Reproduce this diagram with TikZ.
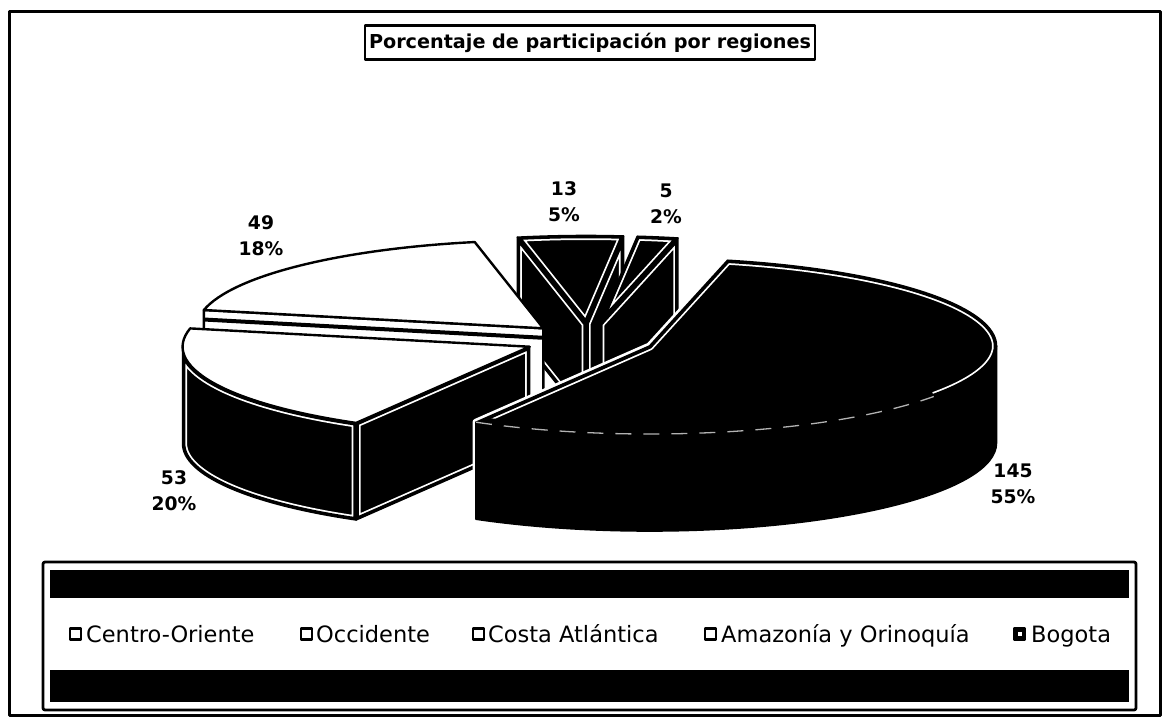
\documentclass[tikz,border=0pt]{standalone}
\usepackage{fontspec}
\setmainfont{DejaVu Sans}
\usetikzlibrary{calc}
\newcommand\darkpath[1]{%
  \begin{scope}
    \clip #1;
    \fill[black] #1;
    \draw[white, line width=9pt] #1;
    \draw[black, line width=5.5pt] #1;
  \end{scope}
  \draw[black, line width=1.6pt] #1;
}
\begin{document}
\begin{tikzpicture}[x=1pt,y=1pt, line join=round,
  er/.style={x radius=347pt, y radius=88pt},
  lbl/.style={font=\fontsize{18.7}{26}\selectfont\bfseries, align=center, inner sep=0pt},
  legtext/.style={font=\fontsize{22.5}{27}\selectfont, anchor=base west, inner sep=0pt},
  legbox/.style={draw=black, line width=2.6pt, fill=white, minimum width=11pt, minimum height=11pt, inner sep=0pt},
  whitetop/.style={fill=white, draw=black, line width=2.4pt},
]
\useasboundingbox (0,0) rectangle (1169,-721);
\fill[white] (0,0) rectangle (1169,-721);
\draw[line width=3pt] (9.5,-11.5) rectangle (1160,-715);

% title
\node[draw, line width=2.8pt, inner xsep=4pt, minimum height=34pt,
      font=\fontsize{19.2}{23}\selectfont\bfseries] (title) at (590,-42.5)
      {Porcentaje de participación por regiones};

% ---------- slice centres ----------
\coordinate (K0) at (586,-323.5);     % Costa Atlantica
\coordinate (A0) at (599.8,-323.75);  % Amazonia
\coordinate (O0) at (543.3,-328.3);   % Occidente
\coordinate (C0) at (529.6,-346.7);   % Centro-Oriente
\coordinate (B0) at (649.5,-346);     % Bogota

\coordinate (K1) at ($(K0)+(83.8:347pt and 88pt)$);
\coordinate (K2) at ($(K0)+(101.4:347pt and 88pt)$);
\coordinate (A1) at ($(A0)+(77:347pt and 88pt)$);
\coordinate (O1) at ($(O0)+(101.4:347pt and 88pt)$);
\coordinate (O2) at ($(O0)+(168:347pt and 88pt)$);
\coordinate (C1) at ($(C0)+(168:347pt and 88pt)$);
\coordinate (C2) at ($(C0)+(240:347pt and 88pt)$);
\coordinate (C3) at ($(C0)+(180:347pt and 88pt)$);
\coordinate (B1) at ($(B0)+(77:347pt and 88pt)$);
\coordinate (B2) at ($(B0)+(-120:347pt and 88pt)$);
\coordinate (B3) at ($(B0)+(0:347pt and 88pt)$);

% ---------- Costa Atlantica ----------
\darkpath{(K0) -- (K1) -- ++(0,-97) -- ($(K0)+(0,-97)$) -- cycle}
\darkpath{(K0) -- (K2) -- ++(0,-97) -- ($(K0)+(0,-97)$) -- cycle}
\darkpath{(K0) -- (K1) arc[start angle=83.8, end angle=101.4, er] -- cycle}

% ---------- Amazonia ----------
\darkpath{(A0) -- (A1) -- ++(0,-97) -- ($(A0)+(0,-97)$) -- cycle}
\darkpath{(A0) -- (A1) arc[start angle=77, end angle=83.8, er] -- cycle}

% ---------- Occidente ----------
\draw[fill=white, draw=black, line width=2.4pt] (O0) -- (O2) -- ++(0,-97) -- ($(O0)+(0,-97)$) -- cycle;
\draw[black, line width=4pt] ($(O2)+(0,-9.5)$) -- ($(O0)+(0,-9.5)$);
\draw[whitetop] (O0) -- (O1) arc[start angle=101.4, end angle=168, er] -- cycle;

% ---------- Centro-Oriente ----------
\darkpath{(C3) arc[start angle=180, end angle=240, er] -- ++(0,-97) arc[start angle=240, end angle=180, er] -- cycle}
\darkpath{(C0) -- (C2) -- ++(0,-97) -- ($(C0)+(0,-97)$) -- cycle}
\draw[whitetop] (C0) -- (C1) arc[start angle=168, end angle=240, er] -- cycle;

% ---------- Bogota ----------
\draw[white, line width=7pt] (B0) -- (B1) arc[start angle=77, end angle=0, er] -- ++(0,-97)
      arc[start angle=0, end angle=-120, er] -- ++(0,97) -- cycle;
\draw[fill=black, draw=black, line width=1.6pt] (B2) arc[start angle=-120, end angle=0, er] -- ++(0,-97)
      arc[start angle=0, end angle=-120, er] -- cycle;
\darkpath{(B0) -- (B2) arc[start angle=-120, end angle=77, er] -- cycle}
\begin{scope}
  \clip (B0) -- (B2) arc[start angle=-120, end angle=77, er] -- cycle;
  \draw[black, line width=12pt] (B2) arc[start angle=-120, end angle=-35, er];
\end{scope}
\draw[gray!60, line width=1.3pt, dash pattern=on 16pt off 12pt] (B2) arc[start angle=-120, end angle=-35, er];

% ---------- data labels ----------
\node[lbl] (l49) at (261,-235.5) {49\\18\%};
\node[lbl] (l13) at (564,-202) {13\\5\%};
\node[lbl] (l5) at (666,-203.5) {5\\2\%};
\node[lbl] (l145) at (1013,-484) {145\\55\%};
\node[lbl] (l53) at (174,-491) {53\\20\%};

% ---------- legend ----------
\draw[line width=2.8pt, rounded corners=2pt] (43,-562) rectangle (1136,-710);
\fill[black] (50,-570) rectangle (1129,-598);
\fill[black] (50,-670) rectangle (1129,-702);

\node[legbox] (s1) at (75.5,-634) {};
\node[legtext] (t1) at (86,-642) {Centro-Oriente};
\node[legbox] (s2) at (306.5,-634) {};
\node[legtext] (t2) at (316,-642) {Occidente};
\node[legbox] (s3) at (478.5,-634) {};
\node[legtext] (t3) at (488,-642) {Costa Atlántica};
\node[legbox] (s4) at (710.5,-634) {};
\node[legtext] (t4) at (721,-642) {Amazonía y Orinoquía};
\node[legbox, fill=black] (s5) at (1019.5,-634) {};
\fill[white] ($(s5.center)+(-2,-2)$) rectangle ($(s5.center)+(2,2)$);
\node[legtext] (t5) at (1031,-642) {Bogota};
\end{tikzpicture}
\end{document}
